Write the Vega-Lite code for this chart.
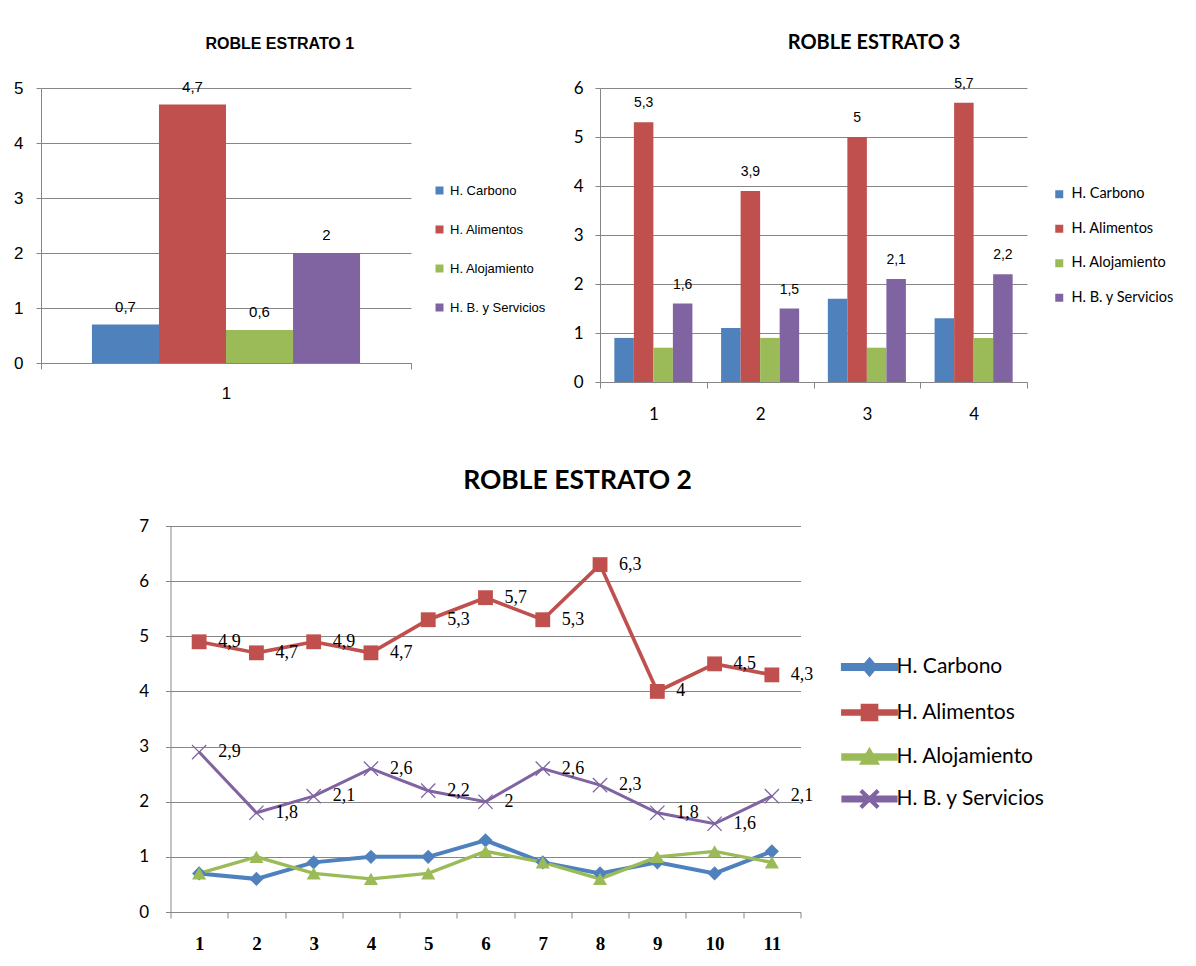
{
  "$schema": "https://vega.github.io/schema/vega-lite/v6.json",
  "background": "white",
  "padding": {"left": 13, "top": 32, "right": 5, "bottom": 5},
  "config": {
    "locale": {"number": {"decimal": ",", "thousands": ".", "grouping": [3], "currency": ["", " €"]}},
    "view": {"stroke": null},
    "axis": {"domainColor": "#868686", "tickColor": "#868686", "gridColor": "#868686", "labelColor": "black", "title": null, "domainWidth": 1, "gridWidth": 1}
  },
  "datasets": {
    "e1": [
      {"grupo": 1, "serie": "H. Carbono", "valor": 0.7},
      {"grupo": 1, "serie": "H. Alimentos", "valor": 4.7},
      {"grupo": 1, "serie": "H. Alojamiento", "valor": 0.6},
      {"grupo": 1, "serie": "H. B. y Servicios", "valor": 2}
    ],
    "e3": [
      {"grupo": 1, "serie": "H. Carbono", "valor": 0.9},
      {"grupo": 1, "serie": "H. Alimentos", "valor": 5.3},
      {"grupo": 1, "serie": "H. Alojamiento", "valor": 0.7},
      {"grupo": 1, "serie": "H. B. y Servicios", "valor": 1.6},
      {"grupo": 2, "serie": "H. Carbono", "valor": 1.1},
      {"grupo": 2, "serie": "H. Alimentos", "valor": 3.9},
      {"grupo": 2, "serie": "H. Alojamiento", "valor": 0.9},
      {"grupo": 2, "serie": "H. B. y Servicios", "valor": 1.5},
      {"grupo": 3, "serie": "H. Carbono", "valor": 1.7},
      {"grupo": 3, "serie": "H. Alimentos", "valor": 5},
      {"grupo": 3, "serie": "H. Alojamiento", "valor": 0.7},
      {"grupo": 3, "serie": "H. B. y Servicios", "valor": 2.1},
      {"grupo": 4, "serie": "H. Carbono", "valor": 1.3},
      {"grupo": 4, "serie": "H. Alimentos", "valor": 5.7},
      {"grupo": 4, "serie": "H. Alojamiento", "valor": 0.9},
      {"grupo": 4, "serie": "H. B. y Servicios", "valor": 2.2}
    ],
    "e2": [
      {"punto": 1, "serie": "H. Carbono", "valor": 0.7},
      {"punto": 2, "serie": "H. Carbono", "valor": 0.6},
      {"punto": 3, "serie": "H. Carbono", "valor": 0.9},
      {"punto": 4, "serie": "H. Carbono", "valor": 1.0},
      {"punto": 5, "serie": "H. Carbono", "valor": 1.0},
      {"punto": 6, "serie": "H. Carbono", "valor": 1.3},
      {"punto": 7, "serie": "H. Carbono", "valor": 0.9},
      {"punto": 8, "serie": "H. Carbono", "valor": 0.7},
      {"punto": 9, "serie": "H. Carbono", "valor": 0.9},
      {"punto": 10, "serie": "H. Carbono", "valor": 0.7},
      {"punto": 11, "serie": "H. Carbono", "valor": 1.1},
      {"punto": 1, "serie": "H. Alimentos", "valor": 4.9},
      {"punto": 2, "serie": "H. Alimentos", "valor": 4.7},
      {"punto": 3, "serie": "H. Alimentos", "valor": 4.9},
      {"punto": 4, "serie": "H. Alimentos", "valor": 4.7},
      {"punto": 5, "serie": "H. Alimentos", "valor": 5.3},
      {"punto": 6, "serie": "H. Alimentos", "valor": 5.7},
      {"punto": 7, "serie": "H. Alimentos", "valor": 5.3},
      {"punto": 8, "serie": "H. Alimentos", "valor": 6.3},
      {"punto": 9, "serie": "H. Alimentos", "valor": 4.0},
      {"punto": 10, "serie": "H. Alimentos", "valor": 4.5},
      {"punto": 11, "serie": "H. Alimentos", "valor": 4.3},
      {"punto": 1, "serie": "H. Alojamiento", "valor": 0.7},
      {"punto": 2, "serie": "H. Alojamiento", "valor": 1.0},
      {"punto": 3, "serie": "H. Alojamiento", "valor": 0.7},
      {"punto": 4, "serie": "H. Alojamiento", "valor": 0.6},
      {"punto": 5, "serie": "H. Alojamiento", "valor": 0.7},
      {"punto": 6, "serie": "H. Alojamiento", "valor": 1.1},
      {"punto": 7, "serie": "H. Alojamiento", "valor": 0.9},
      {"punto": 8, "serie": "H. Alojamiento", "valor": 0.6},
      {"punto": 9, "serie": "H. Alojamiento", "valor": 1.0},
      {"punto": 10, "serie": "H. Alojamiento", "valor": 1.1},
      {"punto": 11, "serie": "H. Alojamiento", "valor": 0.9},
      {"punto": 1, "serie": "H. B. y Servicios", "valor": 2.9},
      {"punto": 2, "serie": "H. B. y Servicios", "valor": 1.8},
      {"punto": 3, "serie": "H. B. y Servicios", "valor": 2.1},
      {"punto": 4, "serie": "H. B. y Servicios", "valor": 2.6},
      {"punto": 5, "serie": "H. B. y Servicios", "valor": 2.2},
      {"punto": 6, "serie": "H. B. y Servicios", "valor": 2.0},
      {"punto": 7, "serie": "H. B. y Servicios", "valor": 2.6},
      {"punto": 8, "serie": "H. B. y Servicios", "valor": 2.3},
      {"punto": 9, "serie": "H. B. y Servicios", "valor": 1.8},
      {"punto": 10, "serie": "H. B. y Servicios", "valor": 1.6},
      {"punto": 11, "serie": "H. B. y Servicios", "valor": 2.1}
    ]
  },
  "spacing": 45,
  "center": true,
  "resolve": {"scale": {"color": "independent", "xOffset": "independent", "strokeWidth": "independent"}, "legend": {"color": "independent", "strokeWidth": "independent"}},
  "vconcat": [
    {
      "spacing": 27,
      "resolve": {"scale": {"color": "independent", "xOffset": "independent"}, "legend": {"color": "independent"}},
      "hconcat": [
        {
          "width": 370,
          "height": 275,
          "title": {"text": "ROBLE ESTRATO 1", "font": "Liberation Sans Narrow, Liberation Sans", "fontSize": 16, "fontWeight": "bold", "offset": 27, "color": "black", "frame": "bounds", "anchor": "middle"},
          "data": {"name": "e1"},
          "encoding": {
            "x": {"field": "grupo", "type": "ordinal", "scale": {"type": "band", "paddingInner": 0, "paddingOuter": 0},
              "axis": {"labelAngle": 0, "labelFontSize": 17, "labelFont": "Liberation Sans Narrow, Liberation Sans", "tickBand": "extent", "tickSize": 6, "labelPadding": 16, "grid": false}},
            "xOffset": {"field": "serie", "type": "nominal", "scale": {"domain": ["H. Carbono", "H. Alimentos", "H. Alojamiento", "H. B. y Servicios"], "paddingInner": 0, "paddingOuter": 0.76}},
            "y": {"field": "valor", "type": "quantitative", "scale": {"domain": [0, 5], "nice": false},
              "axis": {"values": [0, 1, 2, 3, 4, 5], "labelFontSize": 17, "labelFont": "Liberation Sans Narrow, Liberation Sans", "tickSize": 5, "labelPadding": 13, "grid": true}}
          },
          "layer": [
            {
              "mark": {"type": "bar"},
              "encoding": {
                "color": {"field": "serie", "type": "nominal",
                  "scale": {"domain": ["H. Carbono", "H. Alimentos", "H. Alojamiento", "H. B. y Servicios"], "range": ["#4F81BD", "#C0504D", "#9BBB59", "#8064A2"]},
                  "legend": {"title": null, "orient": "none", "legendX": 392, "legendY": 96, "symbolType": "square", "symbolSize": 64, "labelFontSize": 13, "labelFont": "Liberation Sans Narrow, Liberation Sans", "labelColor": "black", "rowPadding": 25, "labelOffset": 4, "symbolStrokeWidth": 0}}
              }
            },
            {
              "mark": {"type": "text", "baseline": "bottom", "dy": -10, "font": "Liberation Sans Narrow, Liberation Sans", "fontSize": 15, "color": "black"},
              "encoding": {"text": {"field": "valor", "type": "quantitative", "format": "~g"}}
            }
          ]
        },
        {
          "width": 427,
          "height": 294,
          "title": {"text": "ROBLE ESTRATO 3", "font": "Lato", "fontSize": 20, "fontWeight": "bold", "offset": 24, "color": "black", "frame": "bounds", "anchor": "middle"},
          "data": {"name": "e3"},
          "encoding": {
            "x": {"field": "grupo", "type": "ordinal", "scale": {"type": "band", "paddingInner": 0, "paddingOuter": 0},
              "axis": {"labelAngle": 0, "labelFontSize": 17, "labelFont": "Lato", "tickBand": "extent", "tickSize": 6, "labelPadding": 18, "grid": false}},
            "xOffset": {"field": "serie", "type": "nominal", "scale": {"domain": ["H. Carbono", "H. Alimentos", "H. Alojamiento", "H. B. y Servicios"], "paddingInner": 0, "paddingOuter": 0.735}},
            "y": {"field": "valor", "type": "quantitative", "scale": {"domain": [0, 6], "nice": false},
              "axis": {"values": [0, 1, 2, 3, 4, 5, 6], "labelFontSize": 17, "labelFont": "Lato", "tickSize": 5, "labelPadding": 12, "grid": true}}
          },
          "layer": [
            {
              "mark": {"type": "bar"},
              "encoding": {
                "color": {"field": "serie", "type": "nominal",
                  "scale": {"domain": ["H. Carbono", "H. Alimentos", "H. Alojamiento", "H. B. y Servicios"], "range": ["#4F81BD", "#C0504D", "#9BBB59", "#8064A2"]},
                  "legend": {"title": null, "orient": "none", "legendX": 452, "legendY": 99, "symbolType": "square", "symbolSize": 64, "labelFontSize": 14.5, "labelFont": "Lato", "labelColor": "black", "rowPadding": 19.5, "labelOffset": 5, "symbolStrokeWidth": 0}}
              }
            },
            {
              "transform": [{"filter": "datum.serie === 'H. Alimentos' || datum.serie === 'H. B. y Servicios'"}],
              "mark": {"type": "text", "baseline": "bottom", "dy": -12, "font": "Liberation Sans Narrow, Liberation Sans", "fontSize": 14, "color": "black"},
              "encoding": {"text": {"field": "valor", "type": "quantitative", "format": "~g"}}
            }
          ]
        }
      ]
    },
    {
      "width": 630,
      "height": 386,
      "title": {"text": "ROBLE ESTRATO 2", "font": "Lato", "fontSize": 26.5, "fontWeight": "bold", "offset": 23, "color": "black", "frame": "bounds", "anchor": "middle"},
      "data": {"name": "e2"},
      "encoding": {
        "x": {"field": "punto", "type": "ordinal", "scale": {"type": "band", "paddingInner": 0, "paddingOuter": 0},
          "axis": {"labelAngle": 0, "labelFontSize": 19, "labelFont": "Liberation Serif", "labelFontWeight": "bold", "tickBand": "extent", "tickSize": 6, "labelPadding": 16, "grid": false}},
        "y": {"field": "valor", "type": "quantitative", "scale": {"domain": [0, 7], "nice": false},
          "axis": {"values": [0, 1, 2, 3, 4, 5, 6, 7], "labelFontSize": 17, "labelFont": "Lato", "tickSize": 5, "labelPadding": 17, "grid": true, "title": "\u00a0", "titleFontSize": 12, "titlePadding": 16}},
        "color": {"field": "serie", "type": "nominal",
          "scale": {"domain": ["H. Carbono", "H. Alimentos", "H. Alojamiento", "H. B. y Servicios"], "range": ["#4F81BD", "#C0504D", "#9BBB59", "#8064A2"]},
          "legend": {
            "title": null, "orient": "none", "legendX": 677, "legendY": 119,
            "symbolSize": 1600, "labelFontSize": 21, "labelFont": "Lato", "labelColor": "black", "rowPadding": 7.5, "labelOffset": 5,
            "encode": {"symbols": {"update": {
              "shape": {"signal": "datum.value === 'H. Carbono' ? 'M-1.33,-0.1H1.33V0.1H-1.33Z M0,-0.36L0.3,0L0,0.36L-0.3,0Z' : datum.value === 'H. Alimentos' ? 'M-1.33,-0.07H1.33V0.07H-1.33Z M-0.35,-0.35H0.35V0.35H-0.35Z' : datum.value === 'H. Alojamiento' ? 'M-1.33,-0.1H1.33V0.1H-1.33Z M0,-0.35L0.38,0.3H-0.38Z' : 'M-1.33,-0.1H1.33V0.1H-1.33Z M-0.4,-0.35L-0.36,-0.39L0,-0.04L0.36,-0.39L0.4,-0.35L0.04,0L0.4,0.35L0.36,0.39L0,0.04L-0.36,0.39L-0.4,0.35L-0.04,0Z'"},
              "fill": {"scale": "color", "field": "value"},
              "stroke": {"value": "transparent"},
              "strokeWidth": {"value": 0},
              "opacity": {"value": 1}
            }}}
          }
        }
      },
      "layer": [
        {
          "mark": {"type": "line"},
          "encoding": {
            "strokeWidth": {"field": "serie", "type": "nominal", "scale": {"domain": ["H. Carbono", "H. Alimentos", "H. Alojamiento", "H. B. y Servicios"], "range": [4, 3, 4, 4]}, "legend": null}
          }
        },
        {
          "transform": [{"filter": "datum.serie === 'H. Carbono'"}],
          "mark": {"type": "point", "filled": true, "size": 200, "opacity": 1, "shape": "diamond"}
        },
        {
          "transform": [{"filter": "datum.serie === 'H. Alimentos'"}],
          "mark": {"type": "point", "filled": true, "size": 220, "opacity": 1, "shape": "square"}
        },
        {
          "transform": [{"filter": "datum.serie === 'H. Alojamiento'"}],
          "mark": {"type": "point", "filled": true, "size": 200, "opacity": 1, "shape": "triangle-up"}
        },
        {
          "transform": [{"filter": "datum.serie === 'H. B. y Servicios'"}],
          "mark": {"type": "point", "filled": true, "size": 230, "opacity": 1, "shape": "M-1,-0.88L-0.88,-1L0,-0.12L0.88,-1L1,-0.88L0.12,0L1,0.88L0.88,1L0,0.12L-0.88,1L-1,0.88L-0.12,0Z"}
        },
        {
          "transform": [{"filter": "datum.serie === 'H. Alimentos' || datum.serie === 'H. B. y Servicios'"}],
          "mark": {"type": "text", "align": "left", "baseline": "middle", "dx": 19, "font": "Liberation Serif", "fontSize": 18},
          "encoding": {
            "text": {"field": "valor", "type": "quantitative", "format": "~g"},
            "color": {"value": "black"}
          }
        }
      ]
    }
  ]
}
